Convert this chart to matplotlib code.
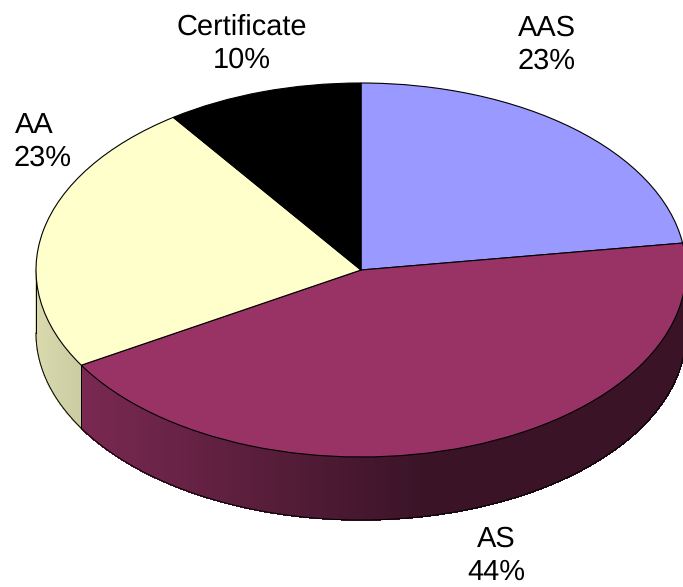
import numpy as np
import matplotlib
matplotlib.use("Agg")
import matplotlib.pyplot as plt
from matplotlib.colors import to_rgb

plt.rcParams["font.family"] = ["Liberation Sans", "DejaVu Sans"]
plt.rcParams["text.hinting"] = "no_hinting"
plt.rcParams["text.hinting_factor"] = 1

# data, clockwise from 12 o'clock
categories = ["AAS", "AS", "AA", "Certificate"]
values = [22.7, 43.8, 23.7, 9.8]
pct_labels = ["23%", "44%", "23%", "10%"]
colors = ["#9999ff", "#993366", "#ffffcc", "#000000"]

W, H = 683, 587
cx, cy = 361, 270
rx, ry = 325, 187
depth = 63 / ry

fig = plt.figure(figsize=(W / 100, H / 100), dpi=100)
ax = fig.add_axes([0, 0, 1, 1])

# top of the pie
ax.pie(values, colors=colors, startangle=90, counterclock=False, radius=1,
       wedgeprops={"edgecolor": "black", "linewidth": 0.8, "zorder": 5})
ax.set_aspect("auto")
ax.set_xlim(-cx / rx, (W - cx) / rx)
ax.set_ylim(-(H - cy) / ry, cy / ry)
ax.axis("off")


def shade(x):
    # side wall gets darker going right, flat after a point
    return np.clip(0.8 - 0.396 * (x + 0.86), 0.38, 0.86)


# side wall, only the front half of the ellipse shows
start = 90.0
for val, col in zip(values, colors):
    end = start - val / sum(values) * 360
    for lo, hi in [(end, start), (end - 360, start - 360)]:
        lo = max(lo, -180)
        hi = min(hi, 0)
        if hi <= lo:
            continue
        ang = np.radians(np.linspace(lo, hi, int((hi - lo) * 2) + 2))
        xs = np.cos(ang)
        ys = np.sin(ang)
        for i in range(len(ang) - 1):
            c = np.array(to_rgb(col)) * shade((xs[i] + xs[i + 1]) / 2)
            ax.fill([xs[i], xs[i + 1], xs[i + 1], xs[i]],
                    [ys[i], ys[i + 1], ys[i + 1] - depth, ys[i] - depth],
                    facecolor=c, edgecolor=c, lw=0.5, antialiased=False, zorder=2)
        ax.plot(xs, ys - depth, color="black", lw=0.7, zorder=3)
        # slice seam on the wall
        for a in ang[[0, -1]]:
            if -179 < np.degrees(a) < -1:
                ax.plot([np.cos(a)] * 2, [np.sin(a), np.sin(a) - depth],
                        color="black", lw=0.7, zorder=3)
    start = end

# outer wall edge at the left side
ax.plot([-1, -1], [0, -depth], color="black", lw=0.7, zorder=3)

# labels
name_xy = {"AAS": (547, 28), "AS": (496, 539), "AA": (34, 125), "Certificate": (242, 27)}
pct_xy = {"AAS": (547, 61), "AS": (496, 572), "AA": (43, 158), "Certificate": (242, 60)}
for cat, pct in zip(categories, pct_labels):
    x, y = name_xy[cat]
    fig.text(x / W, 1 - y / H, cat, ha="center", va="center", fontsize=20.7)
    x, y = pct_xy[cat]
    fig.text(x / W, 1 - y / H, pct, ha="center", va="center", fontsize=20.7)

fig.savefig("out.png", dpi=100)
